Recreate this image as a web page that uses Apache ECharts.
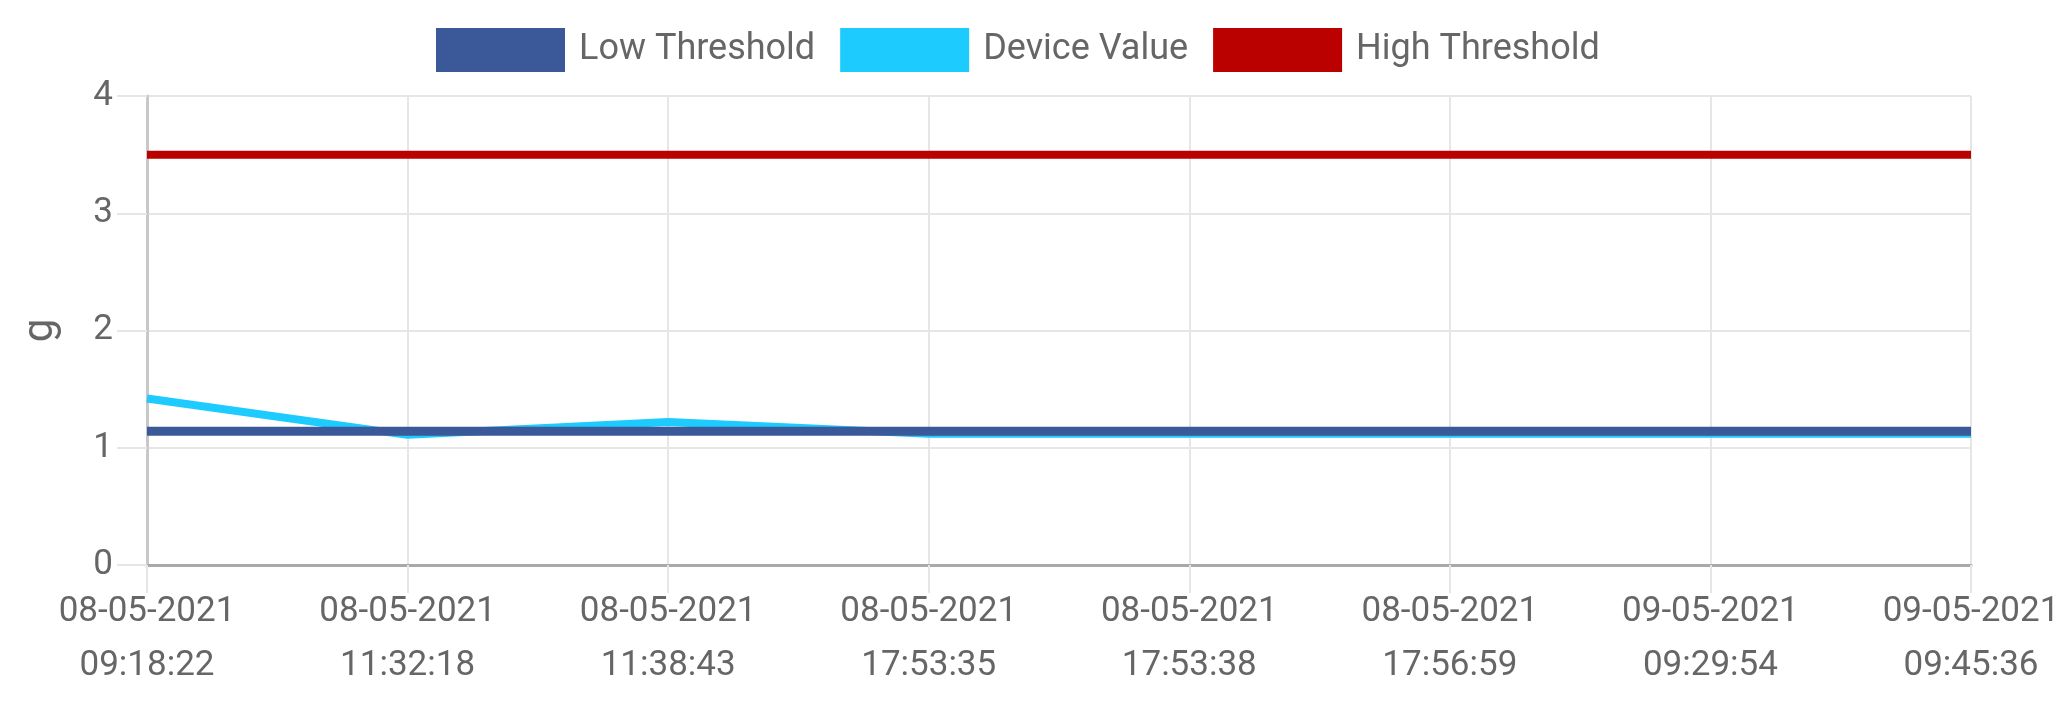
<!DOCTYPE html>
<html>
<head>
<meta charset="utf-8">
<script src="https://cdn.jsdelivr.net/npm/echarts@6/dist/echarts.min.js"></script>
<style>
html,body{margin:0;padding:0;background:#fff;}
#c{width:2070px;height:702px;}
</style>
</head>
<body>
<div id="c"></div>
<script>
const dates = ['08-05-2021','08-05-2021','08-05-2021','08-05-2021','08-05-2021','08-05-2021','09-05-2021','09-05-2021'];
const times = ['09:18:22','11:32:18','11:38:43','17:53:35','17:53:38','17:56:59','09:29:54','09:45:36'];
const lowThreshold = [1.14, 1.14, 1.14, 1.14, 1.14, 1.14, 1.14, 1.14];
const deviceValue = [1.42, 1.11, 1.22, 1.12, 1.12, 1.12, 1.12, 1.12];
const highThreshold = [3.5, 3.5, 3.5, 3.5, 3.5, 3.5, 3.5, 3.5];
const yTicks = [0, 1, 2, 3, 4];

const categories = dates.map((d, i) => d + '\n' + times[i]);
const font = 'Roboto, "Liberation Sans", sans-serif';
const grid = '#e6e6e6';

const chart = echarts.init(document.getElementById('c'), null, {renderer: 'canvas'});
chart.setOption({
  animation: false,
  textStyle: {fontFamily: font},
  legend: {
    top: 23,
    left: 431,
    itemWidth: 129,
    itemHeight: 44,
    itemGap: 25,
    icon: 'rect',
    data: ['Low Threshold', 'Device Value', 'High Threshold'],
    textStyle: {fontSize: 36, color: '#666', fontFamily: font, padding: [0, 0, 0, 9]}
  },
  grid: {left: 147, right: 99, top: 96, bottom: 137, containLabel: false},
  xAxis: {
    type: 'category',
    boundaryGap: false,
    data: categories,
    axisLine: {show: true, lineStyle: {color: '#a9a9a9', width: 3}},
    axisTick: {show: true, length: 28, lineStyle: {color: grid, width: 2}},
    splitLine: {show: true, lineStyle: {color: grid, width: 2}},
    axisLabel: {fontSize: 35, color: '#666', lineHeight: 54, margin: 20, interval: 0, fontFamily: font}
  },
  yAxis: {
    type: 'value',
    min: yTicks[0],
    max: yTicks[yTicks.length - 1],
    interval: 1,
    name: 'g',
    nameLocation: 'middle',
    nameGap: 85,
    nameTextStyle: {fontSize: 42, color: '#666', fontFamily: font},
    axisLine: {show: true, lineStyle: {color: '#c8c8c8', width: 3}},
    axisTick: {show: true, length: 30, lineStyle: {color: grid, width: 2}},
    splitLine: {show: true, lineStyle: {color: grid, width: 2}},
    axisLabel: {fontSize: 35, color: '#666', margin: 34, fontFamily: font}
  },
  series: [
    {name: 'Low Threshold', type: 'line', data: lowThreshold, symbol: 'none', z: 4,
     color: '#3b5998', lineStyle: {width: 9, color: '#3b5998'}},
    {name: 'Device Value', type: 'line', data: deviceValue, symbol: 'none', z: 3,
     color: '#1ecbff', lineStyle: {width: 8, color: '#1ecbff'}},
    {name: 'High Threshold', type: 'line', data: highThreshold, symbol: 'none', z: 2,
     color: '#bb0000', lineStyle: {width: 8, color: '#bb0000'}}
  ]
});
</script>
</body>
</html>
